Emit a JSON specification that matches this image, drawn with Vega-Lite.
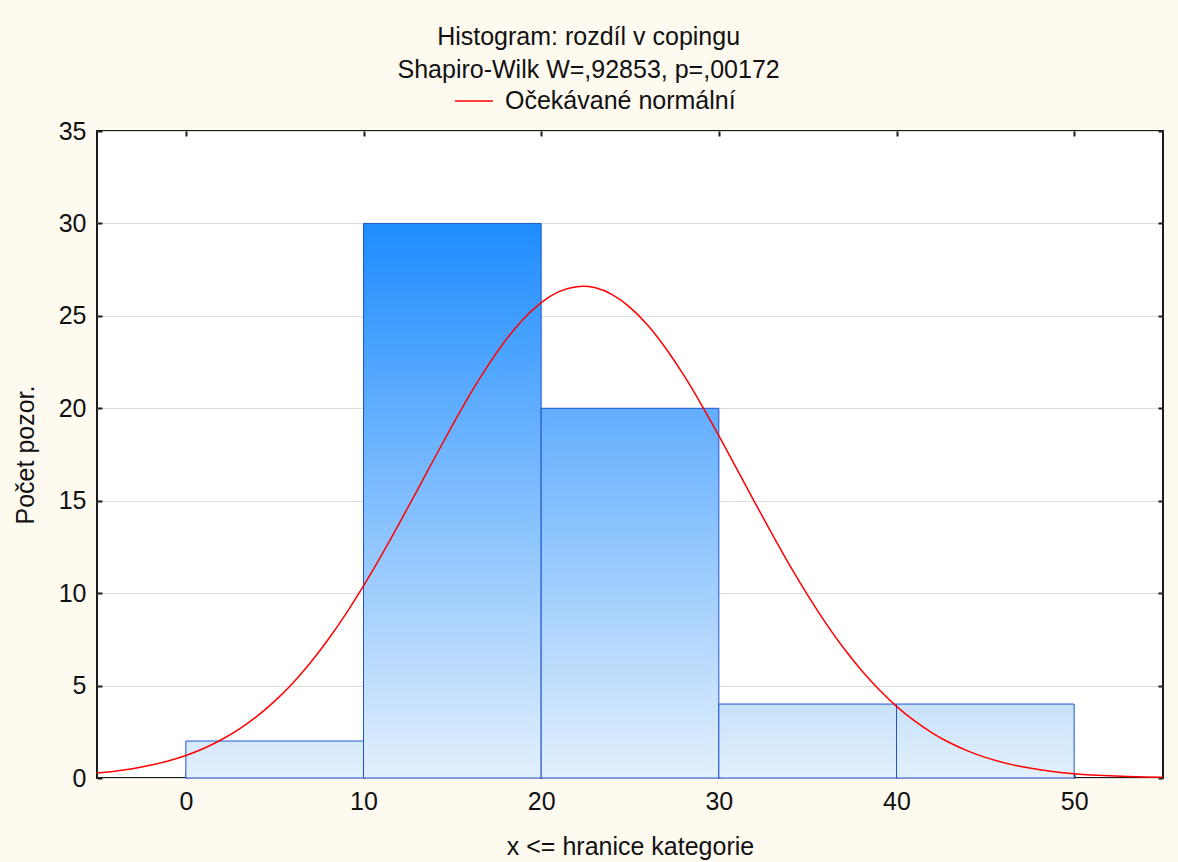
{
  "$schema": "https://vega.github.io/schema/vega-lite/v6.json",
  "autosize": {"type": "none"},
  "width": 1066,
  "height": 647,
  "padding": {"left": 97, "top": 131, "right": 15, "bottom": 84},
  "background": "#FEFAF0",
  "config": {
    "font": "Liberation Sans",
    "view": {"fill": "white", "stroke": "#1a1a1a", "strokeWidth": 2},
    "axis": {
      "labelFont": "Liberation Sans", "titleFont": "Liberation Sans",
      "labelFontSize": 25, "titleFontSize": 25, "titleFontWeight": "normal",
      "labelColor": "#111", "titleColor": "#111",
      "domain": false, "tickColor": "#1a1a1a", "tickWidth": 2, "tickSize": -5
    },
    "legend": {"labelFont": "Liberation Sans", "labelFontSize": 25, "labelColor": "#111", "labelLimit": 500}
  },
  "title": {
    "text": ["Histogram: rozdíl v copingu", "Shapiro-Wilk W=,92853, p=,00172"],
    "anchor": "middle", "frame": "bounds", "font": "Liberation Sans",
    "fontSize": 25, "fontWeight": "normal", "color": "#111", "lineHeight": 33, "offset": -2
  },
  "datasets": {
    "bins": [
      {"lo": 0, "hi": 10, "count": 2},
      {"lo": 10, "hi": 20, "count": 30},
      {"lo": 20, "hi": 30, "count": 20},
      {"lo": 30, "hi": 40, "count": 4},
      {"lo": 40, "hi": 50, "count": 4}
    ],
    "curve": [
      {"x": -5, "y": 0.264}, {"x": -4, "y": 0.367}, {"x": -3, "y": 0.505}, {"x": -2, "y": 0.687},
      {"x": -1, "y": 0.921}, {"x": 0, "y": 1.221}, {"x": 1, "y": 1.599}, {"x": 2, "y": 2.069},
      {"x": 3, "y": 2.643}, {"x": 4, "y": 3.336}, {"x": 5, "y": 4.157}, {"x": 6, "y": 5.118},
      {"x": 7, "y": 6.222}, {"x": 8, "y": 7.477}, {"x": 9, "y": 8.866}, {"x": 10, "y": 10.39},
      {"x": 11, "y": 12.03}, {"x": 12, "y": 13.75}, {"x": 13, "y": 15.52}, {"x": 14, "y": 17.31},
      {"x": 15, "y": 19.07}, {"x": 16, "y": 20.76}, {"x": 17, "y": 22.31}, {"x": 18, "y": 23.68},
      {"x": 19, "y": 24.83}, {"x": 20, "y": 25.72}, {"x": 21, "y": 26.31}, {"x": 22, "y": 26.58},
      {"x": 23, "y": 26.53}, {"x": 24, "y": 26.15}, {"x": 25, "y": 25.46}, {"x": 26, "y": 24.49},
      {"x": 27, "y": 23.26}, {"x": 28, "y": 21.83}, {"x": 29, "y": 20.23}, {"x": 30, "y": 18.52},
      {"x": 31, "y": 16.74}, {"x": 32, "y": 14.95}, {"x": 33, "y": 13.19}, {"x": 34, "y": 11.49},
      {"x": 35, "y": 9.89}, {"x": 36, "y": 8.406}, {"x": 37, "y": 7.057}, {"x": 38, "y": 5.855},
      {"x": 39, "y": 4.796}, {"x": 40, "y": 3.878}, {"x": 41, "y": 3.101}, {"x": 42, "y": 2.447},
      {"x": 43, "y": 1.908}, {"x": 44, "y": 1.469}, {"x": 45, "y": 1.117}, {"x": 46, "y": 0.84},
      {"x": 47, "y": 0.623}, {"x": 48, "y": 0.457}, {"x": 49, "y": 0.331}, {"x": 50, "y": 0.236},
      {"x": 51, "y": 0.167}, {"x": 52, "y": 0.117}, {"x": 53, "y": 0.08}, {"x": 54, "y": 0.055},
      {"x": 55, "y": 0.037}
    ]
  },
  "resolve": {"axis": {"x": "independent", "y": "independent"}},
  "layer": [
    {
      "data": {"name": "bins"},
      "transform": [{"filter": "datum.count == 2"}],
      "mark": {"type": "bar", "orient": "vertical", "stroke": "#1f55d0", "strokeWidth": 1,
        "fill": {"gradient": "linear", "x1": 0, "y1": 0, "x2": 0, "y2": 1,
          "stops": [{"offset": 0, "color": "#D6E9FC"}, {"offset": 1, "color": "#E3F0FD"}]}},
      "encoding": {
        "x": {"field": "lo", "type": "quantitative",
          "scale": {"domain": [-5, 55], "nice": false, "zero": false, "padding": 0},
          "axis": {"orient": "bottom", "values": [0, 10, 20, 30, 40, 50], "grid": false,
            "title": "x <= hranice kategorie", "labelPadding": 16, "titlePadding": 20}},
        "x2": {"field": "hi"},
        "y": {"field": "count", "type": "quantitative", "stack": null,
          "scale": {"domain": [0, 35], "nice": false},
          "axis": {"orient": "left", "values": [0, 5, 10, 15, 20, 25, 30, 35], "grid": true,
            "gridColor": "#dddddd", "gridWidth": 1,
            "title": "Počet pozor.", "labelPadding": 16, "titlePadding": 20}}
      }
    },
    {
      "data": {"name": "bins"},
      "transform": [{"filter": "datum.count == 30"}],
      "mark": {"type": "bar", "orient": "vertical", "stroke": "#1f55d0", "strokeWidth": 1,
        "fill": {"gradient": "linear", "x1": 0, "y1": 0, "x2": 0, "y2": 1,
          "stops": [{"offset": 0, "color": "#1E8CFF"}, {"offset": 1, "color": "#E3F0FD"}]}},
      "encoding": {
        "x": {"field": "lo", "type": "quantitative", "axis": null},
        "x2": {"field": "hi"},
        "y": {"field": "count", "type": "quantitative", "stack": null, "axis": null}
      }
    },
    {
      "data": {"name": "bins"},
      "transform": [{"filter": "datum.count == 20"}],
      "mark": {"type": "bar", "orient": "vertical", "stroke": "#1f55d0", "strokeWidth": 1,
        "fill": {"gradient": "linear", "x1": 0, "y1": 0, "x2": 0, "y2": 1,
          "stops": [{"offset": 0, "color": "#62AEFE"}, {"offset": 1, "color": "#E3F0FD"}]}},
      "encoding": {
        "x": {"field": "lo", "type": "quantitative", "axis": null},
        "x2": {"field": "hi"},
        "y": {"field": "count", "type": "quantitative", "stack": null, "axis": null}
      }
    },
    {
      "data": {"name": "bins"},
      "transform": [{"filter": "datum.count == 4"}],
      "mark": {"type": "bar", "orient": "vertical", "stroke": "#1f55d0", "strokeWidth": 1,
        "fill": {"gradient": "linear", "x1": 0, "y1": 0, "x2": 0, "y2": 1,
          "stops": [{"offset": 0, "color": "#C8E2FB"}, {"offset": 1, "color": "#E3F0FD"}]}},
      "encoding": {
        "x": {"field": "lo", "type": "quantitative", "axis": null},
        "x2": {"field": "hi"},
        "y": {"field": "count", "type": "quantitative", "stack": null, "axis": null}
      }
    },
    {
      "data": {"name": "curve"},
      "mark": {"type": "line", "interpolate": "natural", "strokeWidth": 1.5, "clip": true},
      "encoding": {
        "x": {"field": "x", "type": "quantitative", "axis": null},
        "y": {"field": "y", "type": "quantitative", "axis": null},
        "stroke": {"datum": "Očekávané normální", "type": "nominal",
          "scale": {"range": ["#FF0000"]},
          "legend": {"title": null, "orient": "none", "legendX": 357, "legendY": -50,
            "symbolType": "stroke", "symbolSize": 1444, "symbolStrokeWidth": 1.5,
            "labelOffset": 11}}
      }
    },
    {
      "data": {"name": "bins"},
      "mark": {"type": "point", "opacity": 0},
      "encoding": {
        "x": {"field": "lo", "type": "quantitative",
          "axis": {"orient": "top", "values": [0, 10, 20, 30, 40, 50], "labels": false, "grid": false, "title": null}},
        "y": {"field": "count", "type": "quantitative",
          "axis": {"orient": "right", "values": [0, 5, 10, 15, 20, 25, 30, 35], "labels": false, "grid": false, "title": null}}
      }
    }
  ]
}
